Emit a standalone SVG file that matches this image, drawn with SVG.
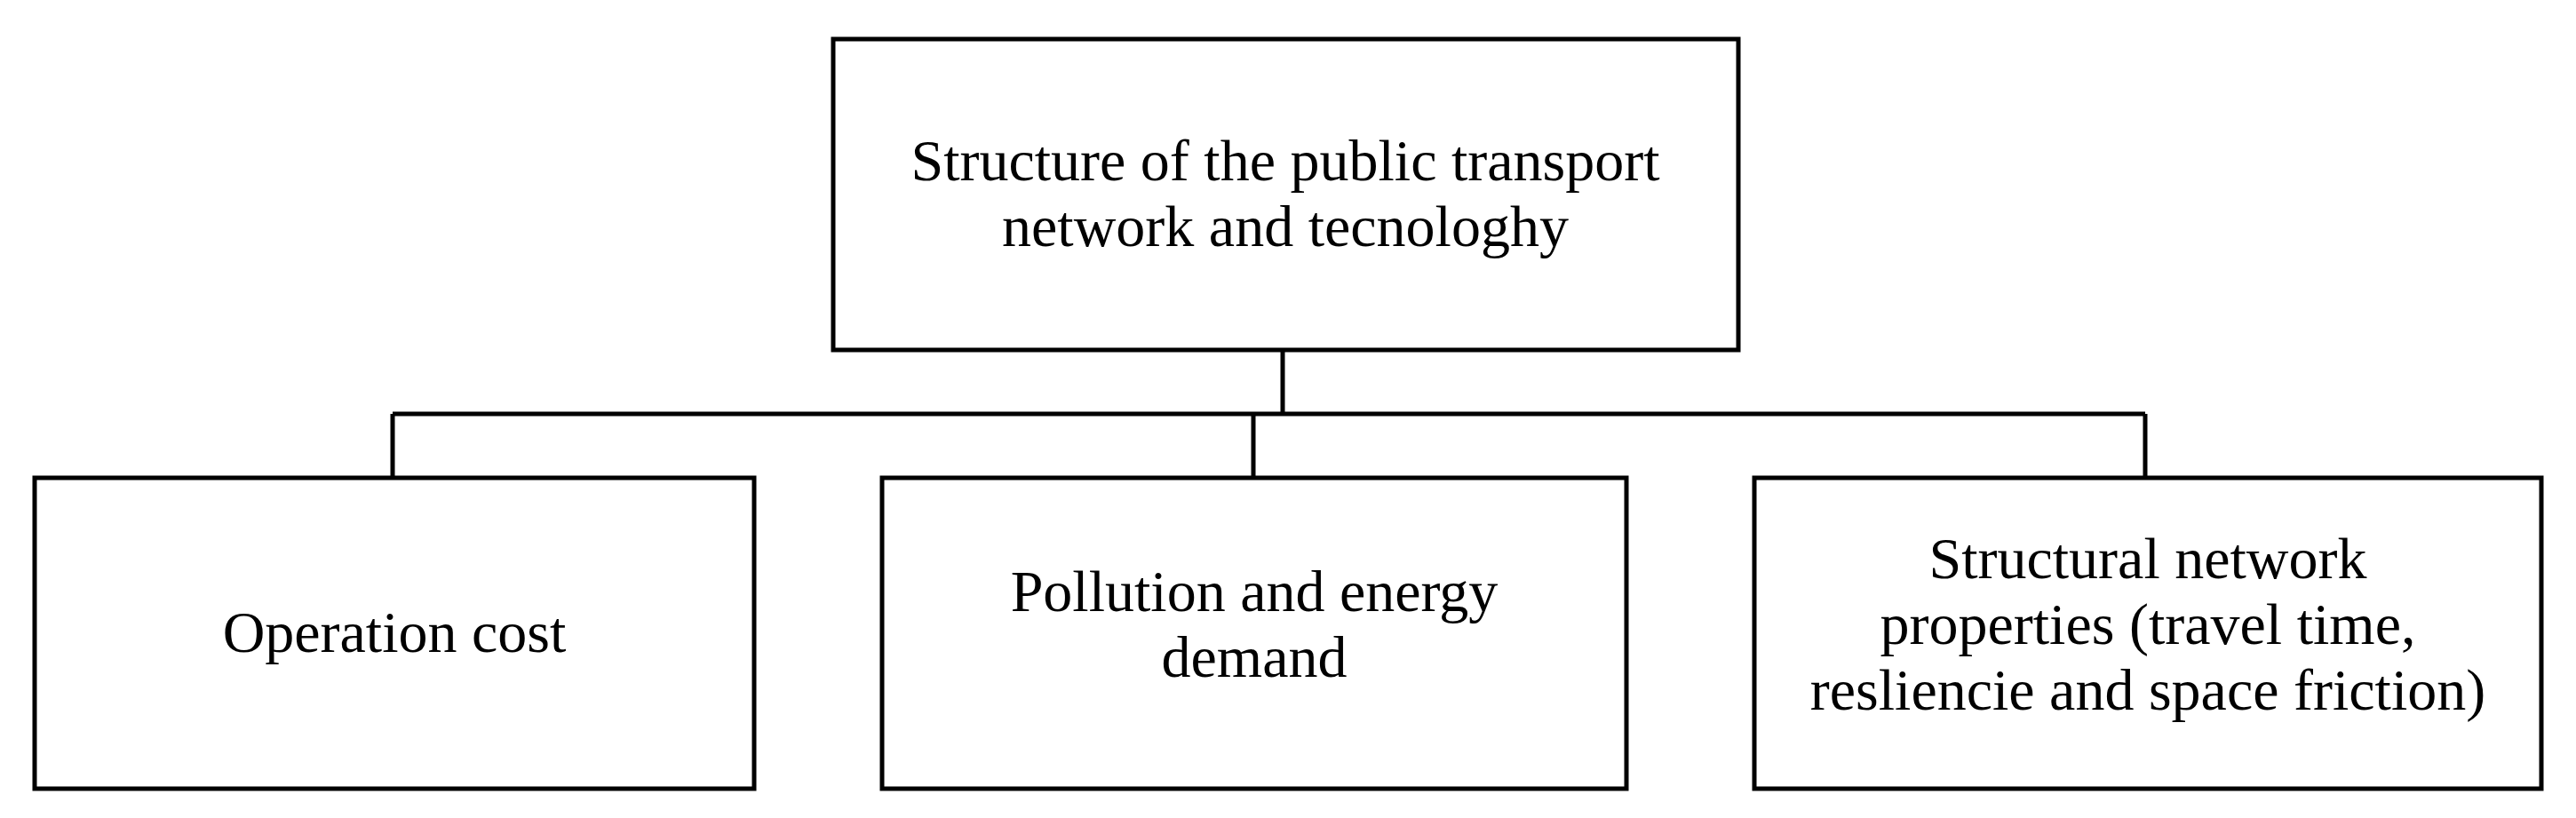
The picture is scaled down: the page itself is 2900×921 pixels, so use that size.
<svg xmlns="http://www.w3.org/2000/svg" width="2900" height="921" viewBox="0 0 2900 921">
<style>
rect{fill:#fff;stroke:#000;stroke-width:5}
text{font-family:"Liberation Serif",serif;font-size:66px;text-anchor:middle;fill:#000}
.c{fill:none;stroke:#000;stroke-width:5}
</style>
<rect x="0" y="0" width="2900" height="921" style="stroke:none"/>
<g id="connectors">
<path class="c" d="M1444 394V466M442 466H2415M442 466V538M1411 466V538M2415 466V538"/>
</g>
<g id="top"><rect x="938" y="44" width="1019" height="350"/>
<text x="1447" y="203">Structure of the public transport</text><text x="1447" y="277">network and tecnologhy</text></g>
<g id="n1"><rect x="39" y="538" width="810" height="350"/><text x="444" y="734">Operation cost</text></g>
<g id="n2"><rect x="993" y="538" width="838" height="350"/><text x="1412" y="688">Pollution and energy</text><text x="1412" y="762">demand</text></g>
<g id="n3"><rect x="1975" y="538" width="886" height="350"/><text x="2418" y="651">Structural network</text><text x="2418" y="725">properties (travel time,</text><text x="2418" y="799">resliencie and space friction)</text></g>
</svg>
